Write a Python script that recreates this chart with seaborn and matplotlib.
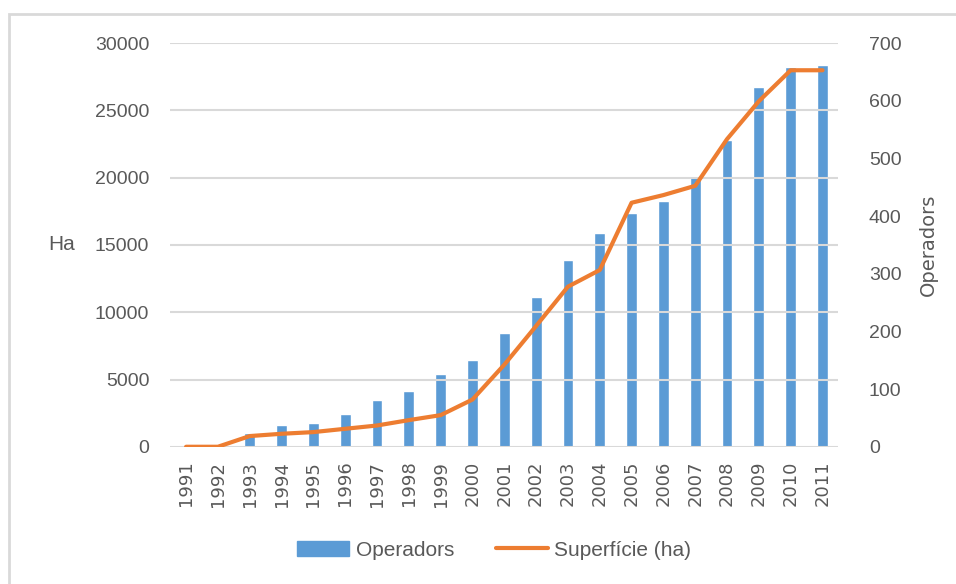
import numpy as np
import pandas as pd
import seaborn as sns
import matplotlib.pyplot as plt
from matplotlib.patches import Rectangle
from matplotlib.lines import Line2D
from matplotlib.patches import Patch

years = [str(y) for y in range(1991, 2012)]
operadors = [0, 0, 24, 38, 42, 57, 81, 97, 126, 151, 197, 260, 324, 371,
             405, 426, 468, 532, 624, 658, 662]
superficie = [0, 0, 795, 965, 1090, 1336, 1580, 1980, 2350, 3510, 6100, 8980,
              11900, 13140, 18140, 18710, 19400, 22870, 25690, 27990, 27990]

df = pd.DataFrame({"any": years, "Operadors": operadors, "Superficie": superficie})

grey_txt = "#595959"
grid_c = "#d9d9d9"
blue = "#5b9bd5"
orange = "#ed7d31"

sns.set_style("white")
plt.rcParams["font.family"] = ["Liberation Sans", "DejaVu Sans"]

fig = plt.figure(figsize=(9.56, 5.84), dpi=100)
ax = fig.add_axes([0.178, 0.235, 0.699, 0.691])
ax2 = ax.twinx()

# bars on right axis (operators), line on left axis (ha)
sns.barplot(data=df, x="any", y="Operadors", color=blue, width=0.34,
            saturation=1, ax=ax2, zorder=2)
sns.lineplot(data=df, x="any", y="Superficie", color=orange, linewidth=3,
             ax=ax, zorder=3, sort=False)

ax.set_zorder(ax2.get_zorder() + 1)
ax.patch.set_visible(False)

ax.set_ylim(0, 30000)
ax2.set_ylim(0, 700)
ax.set_yticks(np.arange(0, 30001, 5000))
ax2.set_yticks(np.arange(0, 701, 100))
ax.set_xlim(-0.5, len(years) - 0.5)

for a in (ax, ax2):
    for s in a.spines.values():
        s.set_visible(False)
    a.tick_params(length=0, colors=grey_txt)

ax.yaxis.grid(True, color=grid_c, linewidth=1.5, zorder=0)
ax.set_axisbelow(True)
ax2.yaxis.grid(False)

ax.tick_params(axis="y", labelsize=14, pad=15)
ax2.tick_params(axis="y", labelsize=14, pad=22)
ax.set_xticks(range(len(years)))
ax.set_xticklabels(years, rotation=90, fontsize=13, family="DejaVu Sans", color=grey_txt)
ax.tick_params(axis="x", pad=10)
ax2.set_xlabel("")

ax.set_xlabel("")
ax.set_ylabel("Ha", rotation=0, fontsize=15, color=grey_txt, va="center", ha="center")
ax.yaxis.set_label_coords(-0.162, 0.5)
ax2.set_ylabel("Operadors", fontsize=14, color=grey_txt, family="DejaVu Sans", labelpad=12)

fig.patches.append(Rectangle((9 / 956, -0.05), 1.2, 1 - 14 / 584 + 0.05,
                             transform=fig.transFigure, fill=False,
                             edgecolor=grid_c, linewidth=2))

handles = [Patch(color=blue, label="Operadors"),
           Line2D([0], [0], color=orange, linewidth=3, label="Superfície (ha)")]
fig.legend(handles=handles, loc="center", bbox_to_anchor=(0.517, 0.058), ncol=2,
           frameon=False, fontsize=15, labelcolor=grey_txt, handlelength=2.5,
           handleheight=0.8, columnspacing=2.0, handletextpad=0.3)

fig.savefig("out.png", dpi=100)
